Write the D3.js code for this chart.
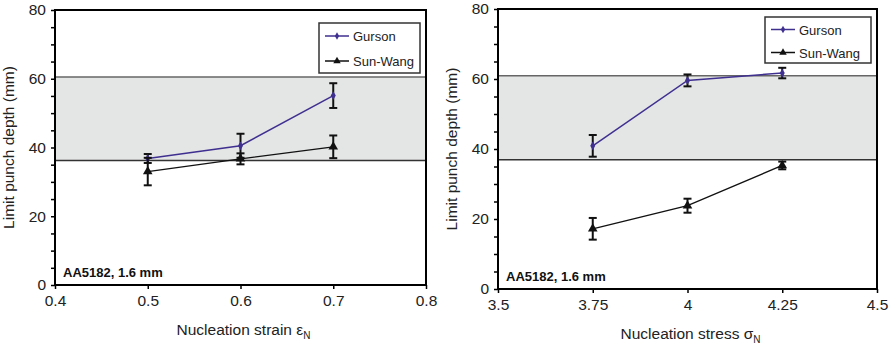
<!DOCTYPE html>
<html>
<head>
<meta charset="utf-8">
<script src="https://cdn.jsdelivr.net/npm/d3@7"></script>
<style>
  body { margin: 0; background: #fff; }
  svg { display: block; font-family: "Liberation Sans", Arial, sans-serif; }
</style>
</head>
<body>
<svg id="chart" width="893" height="353"></svg>
<script>
// data
var seriesNames = ["Gurson", "Sun-Wang"];

var strainX = [0.5, 0.6, 0.7];
var strainGurson = [36.8, 40.5, 55.1];
var strainGursonErr = [1.3, 3.5, 3.6];
var strainSunWang = [33.0, 36.7, 40.2];
var strainSunWangErr = [4.0, 1.6, 3.3];
var strainBand = [36.2, 60.5];
var strainTicks = [0.4, 0.5, 0.6, 0.7, 0.8];
var strainTickLabels = ["0.4", "0.5", "0.6", "0.7", "0.8"];

var stressX = [3.75, 4, 4.25];
var stressGurson = [40.9, 59.6, 61.7];
var stressGursonErr = [3.1, 1.7, 1.5];
var stressSunWang = [17.2, 23.8, 35.3];
var stressSunWangErr = [3.1, 2.0, 1.1];
var stressBand = [36.9, 60.9];
var stressTicks = [3.5, 3.75, 4, 4.25, 4.5];
var stressTickLabels = ["3.5", "3.75", "4", "4.25", "4.5"];

var yTicks = [0, 20, 40, 60, 80];

var gursonColor = "#3f3090";

var svg = d3.select("#chart");

function drawPanel(cfg) {
    var x = d3.scaleLinear().domain(cfg.xDomain).range([cfg.left, cfg.right]);
    var y = d3.scaleLinear().domain([0, 80]).range([cfg.bottom, cfg.top]);
    var g = svg.append("g");

    // shaded experimental band
    g.append("rect")
        .attr("x", cfg.left)
        .attr("y", y(cfg.band[1]))
        .attr("width", cfg.right - cfg.left)
        .attr("height", y(cfg.band[0]) - y(cfg.band[1]))
        .attr("fill", "#e4e5e5");
    cfg.band.forEach(function (v, i) {
        g.append("line")
            .attr("x1", cfg.left).attr("x2", cfg.right)
            .attr("y1", y(v)).attr("y2", y(v))
            .attr("stroke", i === 0 ? "#333" : "#666")
            .attr("stroke-width", 1.5);
    });

    // frame
    g.append("rect")
        .attr("x", cfg.left).attr("y", cfg.top)
        .attr("width", cfg.right - cfg.left)
        .attr("height", cfg.bottom - cfg.top)
        .attr("fill", "none")
        .attr("stroke", "#000")
        .attr("stroke-width", 2);

    // y axis: majors labelled, minors every 5
    var yAxis = d3.axisLeft(y)
        .tickValues(d3.range(0, 81, 5))
        .tickSize(4)
        .tickFormat(function (d) { return yTicks.indexOf(d) >= 0 ? d : ""; });
    var ya = g.append("g").attr("transform", "translate(" + cfg.left + ",0)").call(yAxis);
    ya.select(".domain").remove();
    ya.selectAll("line").attr("stroke", "#000").attr("stroke-width", 1.5);
    ya.selectAll("text").attr("font-size", 15.5).attr("fill", "#222").attr("font-family", null).attr("x", -9);

    // x axis
    var xAxis = d3.axisBottom(x)
        .tickValues(cfg.xTicks)
        .tickSize(4)
        .tickFormat(function (d, i) { return cfg.xTickLabels[i]; });
    var xa = g.append("g").attr("transform", "translate(0," + cfg.bottom + ")").call(xAxis);
    xa.select(".domain").remove();
    xa.selectAll("line").attr("stroke", "#000").attr("stroke-width", 1.5);
    xa.selectAll("text").attr("font-size", 15.5).attr("fill", "#222").attr("font-family", null).attr("y", 10);

    // axis titles
    g.append("text")
        .attr("transform", "translate(" + (cfg.left - 41) + "," + ((cfg.top + cfg.bottom) / 2) + ") rotate(-90)")
        .attr("text-anchor", "middle")
        .attr("font-size", 15.5)
        .attr("fill", "#222")
        .text("Limit punch depth (mm)");

    var xt = g.append("text")
        .attr("x", (cfg.left + cfg.right) / 2 + 3)
        .attr("y", cfg.bottom + 50)
        .attr("text-anchor", "middle")
        .attr("font-size", 15.5)
        .attr("fill", "#222");
    xt.append("tspan").text(cfg.xTitle + " " + cfg.xSymbol);
    xt.append("tspan").attr("font-size", 10).attr("dy", 4).text("N");

    // annotation
    g.append("text")
        .attr("x", cfg.left + 8)
        .attr("y", cfg.bottom - 8)
        .attr("font-size", 13)
        .attr("font-weight", "bold")
        .attr("fill", "#111")
        .text("AA5182, 1.6 mm");

    // series
    var series = [
        { name: seriesNames[0], vals: cfg.gurson, err: cfg.gursonErr, color: gursonColor, symbol: d3.symbolDiamond, size: 22, lsize: 16, width: 1.5 },
        { name: seriesNames[1], vals: cfg.sunWang, err: cfg.sunWangErr, color: "#111", symbol: d3.symbolTriangle, size: 40, lsize: 24, width: 1.3 }
    ];

    var line = d3.line()
        .x(function (d) { return x(d[0]); })
        .y(function (d) { return y(d[1]); });

    series.forEach(function (s) {
        var pts = cfg.xs.map(function (xv, i) { return [xv, s.vals[i], s.err[i]]; });

        // error bars
        var eb = g.append("g").attr("stroke", "#111").attr("stroke-width", 2);
        pts.forEach(function (p) {
            var cx = x(p[0]);
            eb.append("line").attr("x1", cx).attr("x2", cx).attr("y1", y(p[1] - p[2])).attr("y2", y(p[1] + p[2]));
            [p[1] - p[2], p[1] + p[2]].forEach(function (v) {
                eb.append("line").attr("x1", cx - 4).attr("x2", cx + 4).attr("y1", y(v)).attr("y2", y(v));
            });
        });

        g.append("path")
            .datum(pts)
            .attr("d", line)
            .attr("fill", "none")
            .attr("stroke", s.color)
            .attr("stroke-width", s.width);

        g.selectAll(null)
            .data(pts)
            .enter().append("path")
            .attr("d", d3.symbol().type(s.symbol).size(s.size))
            .attr("transform", function (d) { return "translate(" + x(d[0]) + "," + y(d[1]) + ")"; })
            .attr("fill", s.color);
    });

    // legend
    var lg = g.append("g");
    lg.append("rect")
        .attr("x", cfg.legend[0]).attr("y", cfg.legend[1])
        .attr("width", cfg.legend[2]).attr("height", cfg.legend[3])
        .attr("fill", "#fff")
        .attr("stroke", "#333")
        .attr("stroke-width", 1.5);
    series.forEach(function (s, i) {
        var ly = cfg.legend[1] + cfg.legendRows[i];
        var lx = cfg.legend[0] + 6;
        lg.append("line")
            .attr("x1", lx).attr("x2", lx + 24)
            .attr("y1", ly).attr("y2", ly)
            .attr("stroke", s.color).attr("stroke-width", 1.5);
        lg.append("path")
            .attr("d", d3.symbol().type(s.symbol).size(s.lsize))
            .attr("transform", "translate(" + (lx + 12) + "," + ly + ")")
            .attr("fill", s.color);
        lg.append("text")
            .attr("x", lx + 28)
            .attr("y", ly + 5)
            .attr("font-size", 13)
            .attr("fill", "#222")
            .text(s.name);
    });
}

drawPanel({
    left: 55, right: 426, top: 10, bottom: 285,
    xDomain: [0.4, 0.8],
    xTicks: strainTicks, xTickLabels: strainTickLabels,
    xTitle: "Nucleation strain", xSymbol: "\u03b5",
    xs: strainX,
    gurson: strainGurson, gursonErr: strainGursonErr,
    sunWang: strainSunWang, sunWangErr: strainSunWangErr,
    band: strainBand,
    legend: [319, 23, 101, 50], legendRows: [13, 38]
});

drawPanel({
    left: 498, right: 877, top: 9, bottom: 289,
    xDomain: [3.5, 4.5],
    xTicks: stressTicks, xTickLabels: stressTickLabels,
    xTitle: "Nucleation stress", xSymbol: "\u03c3",
    xs: stressX,
    gurson: stressGurson, gursonErr: stressGursonErr,
    sunWang: stressSunWang, sunWangErr: stressSunWangErr,
    band: stressBand,
    legend: [765, 17, 106, 46], legendRows: [12.5, 35.5]
});
</script>
</body>
</html>
